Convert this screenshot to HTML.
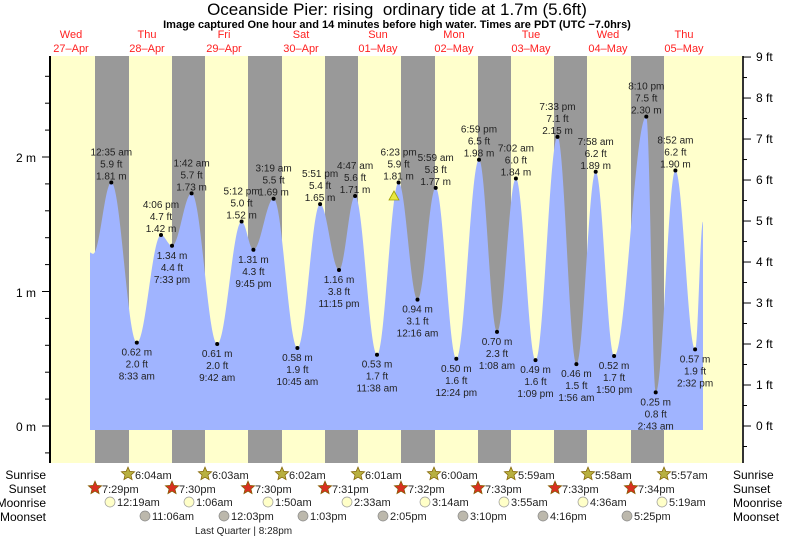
<!DOCTYPE html>
<html><head><meta charset="utf-8"><style>
body{margin:0;background:#fff;}
svg{display:block;font-family:"Liberation Sans",sans-serif;}
</style></head><body>
<svg id="s" width="793" height="538" viewBox="0 0 793 538" xmlns="http://www.w3.org/2000/svg">
<rect x="50" y="56" width="693" height="407" fill="#ffffcc"/>
<g fill="#999999">
<rect x="95" y="56" width="34" height="407"/><rect x="172" y="56" width="33" height="407"/>
<rect x="248" y="56" width="34" height="407"/><rect x="325" y="56" width="33" height="407"/>
<rect x="401" y="56" width="34" height="407"/><rect x="478" y="56" width="33" height="407"/>
<rect x="554" y="56" width="33" height="407"/><rect x="631" y="56" width="33" height="407"/>
</g>
<path id="tide" fill="#a0b4ff" d=""/>
<g id="lab" font-size="10" fill="#222" text-anchor="middle"></g>
<polygon points="394,191 389,200 399,200" fill="#e8e840" stroke="#a0a000" stroke-width="0.8"/>
<line x1="50" y1="56" x2="50" y2="463" stroke="#000" stroke-width="2"/>
<line x1="743" y1="56" x2="743" y2="463" stroke="#333" stroke-width="2"/>
<g id="ax" stroke="#000" stroke-width="1"></g>
<g font-size="12" fill="#000">
<text x="36" y="431" text-anchor="end">0 m</text>
<text x="36" y="297" text-anchor="end">1 m</text>
<text x="36" y="162" text-anchor="end">2 m</text>
</g>
<g id="ft" font-size="12" fill="#000"></g>
<text x="397" y="15" font-size="17" text-anchor="middle" fill="#000">Oceanside Pier: rising&#160; ordinary tide at 1.7m (5.6ft)</text>
<text x="397" y="28" font-size="11" font-weight="bold" text-anchor="middle" fill="#000">Image captured One hour and 14 minutes before high water. Times are PDT (UTC −7.0hrs)</text>
<g font-size="11" fill="#ff2020" text-anchor="middle">
<text x="71" y="38">Wed</text><text x="71" y="52">27–Apr</text>
<text x="147" y="38">Thu</text><text x="147" y="52">28–Apr</text>
<text x="224" y="38">Fri</text><text x="224" y="52">29–Apr</text>
<text x="301" y="38">Sat</text><text x="301" y="52">30–Apr</text>
<text x="378" y="38">Sun</text><text x="378" y="52">01–May</text>
<text x="454" y="38">Mon</text><text x="454" y="52">02–May</text>
<text x="531" y="38">Tue</text><text x="531" y="52">03–May</text>
<text x="608" y="38">Wed</text><text x="608" y="52">04–May</text>
<text x="684" y="38">Thu</text><text x="684" y="52">05–May</text>
</g>
<g font-size="12" fill="#000">
<text x="46" y="479" text-anchor="end">Sunrise</text>
<text x="46" y="493" text-anchor="end">Sunset</text>
<text x="46" y="507" text-anchor="end">Moonrise</text>
<text x="46" y="521" text-anchor="end">Moonset</text>
<text x="733" y="479">Sunrise</text>
<text x="733" y="493">Sunset</text>
<text x="733" y="507">Moonrise</text>
<text x="733" y="521">Moonset</text>
</g>
<g id="bot" font-size="11" fill="#222"></g>
<text x="195" y="534" font-size="10" fill="#222">Last Quarter | 8:28pm</text>
</svg>
<script>
var NS="http://www.w3.org/2000/svg";
function el(p,t,a,txt){var e=document.createElementNS(NS,t);for(var k in a)e.setAttribute(k,a[k]);if(txt!=null)e.textContent=txt;document.getElementById(p).appendChild(e);return e;}
function Y(m){return 426-m*134.5;}
var D=[[90,1.29,"","",0,0],[93,1.28,"","",0,0],
[111.3,1.81,"5.9","12:35 am",1,1],[136.8,0.62,"2.0","8:33 am",0,1],[161,1.42,"4.7","4:06 pm",1,1],[172,1.34,"4.4","7:33 pm",0,1],
[191.6,1.73,"5.7","1:42 am",1,1],[217.2,0.61,"2.0","9:42 am",0,1],[241.6,1.52,"5.0","5:12 pm",1,1],[253.4,1.31,"4.3","9:45 pm",0,1],
[273.6,1.69,"5.5","3:19 am",1,1],[297.4,0.58,"1.9","10:45 am",0,1],[320.1,1.65,"5.4","5:51 pm",1,1],[339,1.16,"3.8","11:15 pm",0,1],
[355.1,1.71,"5.6","4:47 am",1,1],[377,0.53,"1.7","11:38 am",0,1],[398.6,1.81,"5.9","6:23 pm",1,1],
[417.5,0.94,"3.1","12:16 am",0,1],[435.7,1.77,"5.8","5:59 am",1,1],[456.3,0.50,"1.6","12:24 pm",0,1],[479,1.98,"6.5","6:59 pm",1,1],
[497,0.70,"2.3","1:08 am",0,1],[515.9,1.84,"6.0","7:02 am",1,1],[535.5,0.49,"1.6","1:09 pm",0,1],[557.5,2.15,"7.1","7:33 pm",1,1],
[576.4,0.46,"1.5","1:56 am",0,1],[595.7,1.89,"6.2","7:58 am",1,1],[614.1,0.52,"1.7","1:50 pm",0,1],[646.3,2.30,"7.5","8:10 pm",1,1],
[655.7,0.25,"0.8","2:43 am",0,1],[675.4,1.90,"6.2","8:52 am",1,1],[695.1,0.57,"1.9","2:32 pm",0,1],[703,1.52,"","",1,0]];
var d="M90,430 L90,"+Y(D[0][1]).toFixed(1);
for(var i=0;i<D.length-1;i++){var a=D[i],b=D[i+1];for(var x=a[0];x<=b[0];x+=0.5){var f=(x-a[0])/(b[0]-a[0]);var m=a[1]+(b[1]-a[1])*(1-Math.cos(Math.PI*f))/2;d+=" L"+x.toFixed(1)+","+Y(m).toFixed(1);}}
d+=" L703,"+Y(1.52).toFixed(1)+" L703,430 Z";
document.getElementById("tide").setAttribute("d",d);
D.forEach(function(p){if(!p[5])return;var y=Y(p[1]);el("lab","circle",{cx:p[0],cy:y,r:2,fill:"#000"});
 if(p[4]){el("lab","text",{x:p[0],y:y-3},p[1].toFixed(2)+" m");el("lab","text",{x:p[0],y:y-15},p[2]+" ft");el("lab","text",{x:p[0],y:y-27},p[3]);}
 else{el("lab","text",{x:p[0],y:y+13},p[1].toFixed(2)+" m");el("lab","text",{x:p[0],y:y+25},p[2]+" ft");el("lab","text",{x:p[0],y:y+37},p[3]);}});
for(var m=-0.2;m<=2.8;m+=0.2){var y=Y(m);if(y<57||y>462)continue;var big=Math.abs(m-Math.round(m))<0.01;el("ax","line",{x1:big?42:45,y1:y,x2:50,y2:y});}
for(var f=-0.5;f<=9;f+=0.5){var y=Y(f*0.3048);if(y<56||y>463)continue;var big=Math.abs(f-Math.round(f))<0.01;el("ax","line",{x1:743,y1:y,x2:big?751:747,y2:y});if(big)el("ft","text",{x:756,y:y+4},Math.round(f)+" ft");}
function star(cx,cy,fill){var s="";for(var k=0;k<10;k++){var r=k%2?3.2:7,a=-Math.PI/2+k*Math.PI/5;s+=(cx+r*Math.cos(a)).toFixed(1)+","+(cy+r*Math.sin(a)).toFixed(1)+" ";}el("bot","polygon",{points:s,fill:fill,stroke:"#806000","stroke-width":0.7});}
var sr=[[128,"6:04am"],[205,"6:03am"],[282,"6:02am"],[358,"6:01am"],[434,"6:00am"],[511,"5:59am"],[588,"5:58am"],[664,"5:57am"]];
sr.forEach(function(p){star(p[0],474,"#b8b040");el("bot","text",{x:p[0]+7,y:479},p[1]);});
var ss=[[95,"7:29pm"],[172,"7:30pm"],[248,"7:30pm"],[325,"7:31pm"],[401,"7:32pm"],[478,"7:33pm"],[555,"7:33pm"],[631,"7:34pm"]];
ss.forEach(function(p){star(p[0],488,"#d83020");el("bot","text",{x:p[0]+7,y:493},p[1]);});
var mr=[[110,"12:19am"],[189,"1:06am"],[268,"1:50am"],[347,"2:33am"],[425,"3:14am"],[504,"3:55am"],[583,"4:36am"],[662,"5:19am"]];
mr.forEach(function(p){el("bot","circle",{cx:p[0],cy:502,r:5,fill:"#ffffc8",stroke:"#999","stroke-width":0.7});el("bot","text",{x:p[0]+7,y:506},p[1]);});
var ms=[[145,"11:06am"],[224,"12:03pm"],[303,"1:03pm"],[383,"2:05pm"],[463,"3:10pm"],[543,"4:16pm"],[627,"5:25pm"]];
ms.forEach(function(p){el("bot","circle",{cx:p[0],cy:516,r:5,fill:"#bcb8ac",stroke:"#888","stroke-width":0.7});el("bot","text",{x:p[0]+7,y:520},p[1]);});
</script>
</body></html>
